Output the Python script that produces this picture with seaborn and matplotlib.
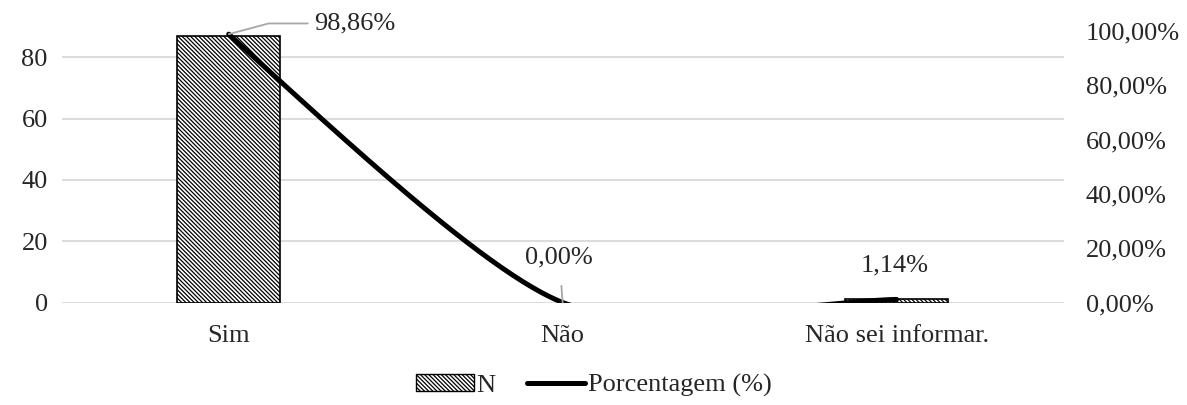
"""
Bar + smoothed percentage line on twin axes.
"""

import matplotlib
matplotlib.use('Agg')
import matplotlib.pyplot as plt
from matplotlib.patches import Patch
from matplotlib.lines import Line2D
import numpy as np
import pandas as pd
import seaborn as sn

categories = ['Sim', 'Não', 'Não sei informar.']
counts = [87, 0, 1]
percents = [98.86, 0.00, 1.14]
left_ticks = [0, 20, 40, 60, 80]
right_ticks = [0, 20, 40, 60, 80, 100]


def smooth_curve(xs, ys, k=0.65, n=80):
    """ Smoothed line drawn like a spreadsheet 'smooth line' (cubic Bezier per segment)
    :param xs: positions
    :param ys: values
    :param k: tension of the interior tangents
    """
    pts = np.column_stack([xs, ys]).astype(float)
    m = np.zeros_like(pts)
    for i in range(1, len(pts) - 1):
        m[i] = k * (pts[i + 1] - pts[i - 1]) / 2.0
    # free start, held end
    m[0] = (3 * (pts[1] - pts[0]) - m[1]) / 2.0
    m[-1] = (pts[-1] - pts[-2]) / 2.0
    out = []
    t = np.linspace(0, 1, n)[:, None]
    for i in range(len(pts) - 1):
        p1, p2 = pts[i], pts[i + 1]
        c1 = p1 + m[i] / 3.0
        c2 = p2 - m[i + 1] / 3.0
        seg = ((1 - t) ** 3) * p1 + 3 * ((1 - t) ** 2) * t * c1 + 3 * (1 - t) * t ** 2 * c2 + t ** 3 * p2
        out.append(seg if i == 0 else seg[1:])
    out = np.vstack(out)
    return out[:, 0], out[:, 1]


sn.set_style('white')
plt.rcParams['font.family'] = ['Liberation Serif', 'DejaVu Serif']
plt.rcParams['hatch.linewidth'] = 0.9
FS = 19
HATCH = '\\' * 8

df = pd.DataFrame({'cat': categories, 'N': counts, 'pct': percents})

fig, ax = plt.subplots(figsize=(11.87, 4.05), dpi=100)
fig.subplots_adjust(left=0.052, right=0.896, top=0.93, bottom=0.253)

sn.barplot(data=df, x='cat', y='N', ax=ax, color='white', width=0.31,
           edgecolor='black', linewidth=1.2, hatch=HATCH)
for p in ax.patches:
    if p.get_height() == 0:
        p.set_visible(False)
ax.set_xlim(-0.5, 2.5)
ax.set_ylim(0, 89.5)
ax.set_yticks(left_ticks)
ax.yaxis.grid(True, color='#d9d9d9', linewidth=1.3)
ax.set_axisbelow(True)
ax.set_xlabel('')
ax.set_ylabel('')
ax.tick_params(axis='both', labelsize=FS, length=0, pad=10)
ax.tick_params(axis='x', pad=16)
for s in ax.spines.values():
    s.set_visible(False)

ax2 = ax.twinx()
sx, sy = smooth_curve(np.arange(len(categories)), percents)
sn.lineplot(x=sx, y=sy, ax=ax2, color='black', linewidth=3.6, sort=False, estimator=None)
ax2.set_ylim(0, 101)
ax2.set_yticks(right_ticks)
ax2.set_yticklabels(['{:.2f}%'.format(v).replace('.', ',') for v in right_ticks])
ax2.tick_params(axis='y', labelsize=FS, length=0, pad=16)
ax2.grid(False)
for s in ax2.spines.values():
    s.set_visible(False)

# data labels
lbl = ['{:.2f}%'.format(v).replace('.', ',') for v in percents]
ax2.annotate(lbl[0], xy=(0, percents[0]), xytext=(0.255, 102.8), fontsize=FS,
             ha='left', va='center', annotation_clip=False,
             arrowprops=dict(arrowstyle='-', color='#a6a6a6', lw=1.3, shrinkA=2, shrinkB=0,
                             connectionstyle='angle,angleA=0,angleB=15,rad=0'))
ax2.annotate(lbl[1], xy=(1, percents[1]), xytext=(0.99, 16.5), fontsize=FS,
             ha='center', va='center', annotation_clip=False,
             arrowprops=dict(arrowstyle='-', color='#a6a6a6', lw=1.3, shrinkA=10, shrinkB=0))
ax2.annotate(lbl[2], xy=(2, percents[2]), xytext=(1.995, 13.5), fontsize=FS,
             ha='center', va='center', annotation_clip=False)

handles = [Patch(facecolor='white', edgecolor='black', hatch=HATCH, linewidth=1.0),
           Line2D([0], [0], color='black', linewidth=3.6)]
fig.legend(handles, ['N', 'Porcentagem (%)'], loc='lower center', ncol=2, frameon=False,
           fontsize=FS, bbox_to_anchor=(0.5, -0.04), handlelength=2.2, handleheight=0.6,
           handletextpad=0.1, columnspacing=1.2)

fig.savefig('out.png', dpi=100)
